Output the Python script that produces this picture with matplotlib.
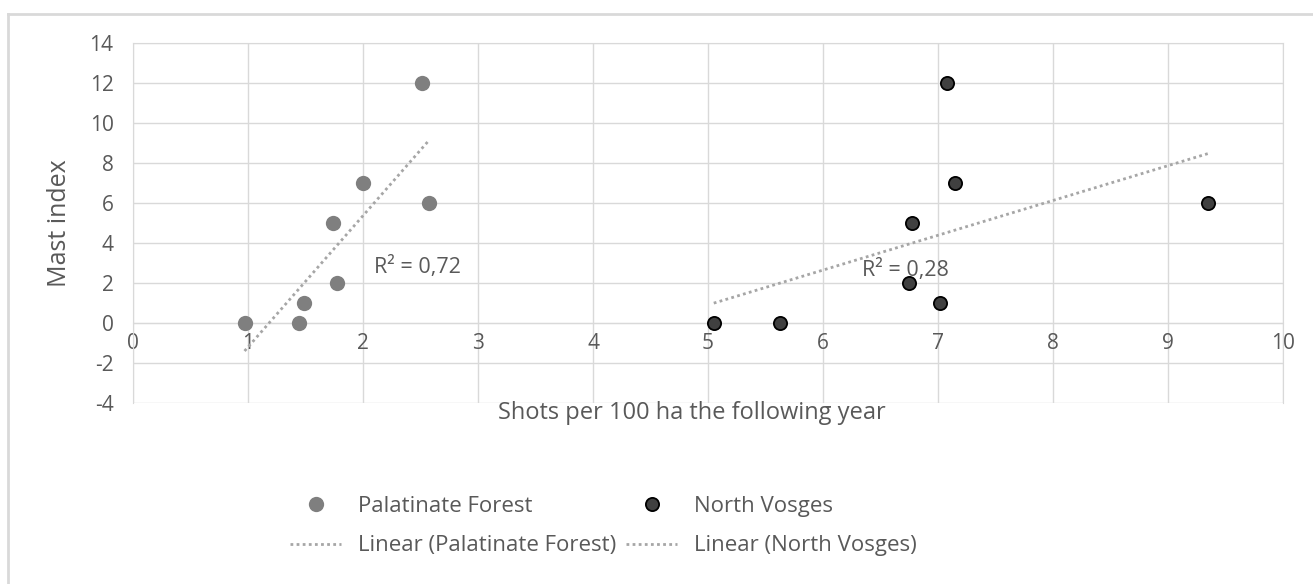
import numpy as np
import matplotlib.pyplot as plt
from matplotlib.lines import Line2D

plt.rcParams['font.family'] = ['Open Sans', 'DejaVu Sans']
plt.rcParams['axes.unicode_minus'] = False

# Palatinate Forest
pal_x = [0.97, 1.44, 1.49, 1.74, 1.77, 2.00, 2.51, 2.57]
pal_y = [0, 0, 1, 5, 2, 7, 12, 6]
# North Vosges
nv_x = [5.05, 5.63, 6.75, 6.77, 7.02, 7.08, 7.15, 9.35]
nv_y = [0, 0, 2, 5, 1, 12, 7, 6]

r2_labels = ['R² = 0,72', 'R² = 0,28']

txt = '#595959'
grid = '#d9d9d9'

fig = plt.figure(figsize=(13.13, 5.84), dpi=100)
ax = fig.add_axes([133 / 1313, 1 - 403 / 584, 1150 / 1313, 360 / 584])

# outer chart border (top and left only visible)
fig.add_artist(Line2D([8 / 1313, 8 / 1313], [0, 1 - 14 / 584], color='#d9d9d9', lw=2, transform=fig.transFigure))
fig.add_artist(Line2D([8 / 1313, 1], [1 - 14 / 584, 1 - 14 / 584], color='#d9d9d9', lw=2, transform=fig.transFigure))

# trend lines
for xs, ys in [(pal_x, pal_y), (nv_x, nv_y)]:
    k, b = np.polyfit(xs, ys, 1)
    xx = np.array([min(xs), max(xs)])
    ax.plot(xx, k * xx + b, linestyle=(0, (1, 1.2)), color='#a6a6a6', lw=2, zorder=3)

ax.plot(pal_x, pal_y, 'o', color='#7f7f7f', markersize=11, markeredgewidth=0, zorder=4, label='Palatinate Forest')
ax.plot(nv_x, nv_y, 'o', color='#404040', markeredgecolor='#000000', markersize=9.5, markeredgewidth=1.3, zorder=4, label='North Vosges')

ax.text(2.10, 2.8, r2_labels[0], fontsize=15.5, color=txt, va='center')
ax.text(6.34, 2.65, r2_labels[1], fontsize=15.5, color=txt, va='center')

ax.set_xlim(0, 10)
ax.set_ylim(-4, 14)
ax.set_xticks(range(0, 11))
ax.set_yticks(range(-4, 15, 2))
ax.grid(True, color=grid, lw=1)
ax.set_axisbelow(True)
for s in ['top', 'right', 'left', 'bottom']:
    ax.spines[s].set_color(grid)
ax.spines['bottom'].set_position(('data', 0))
ax.tick_params(length=0, labelsize=15, labelcolor=txt)
ax.tick_params(axis='y', pad=14)
ax.tick_params(axis='x', pad=7)

ax.set_ylabel('Mast index', fontsize=18, color=txt)
ax.yaxis.set_label_coords(-0.053, 0.5)
fig.text(692 / 1313, 1 - 413 / 584,
         'Shots per 100 ha the following year', fontsize=17, color=txt, ha='center', va='center')

handles = [
    Line2D([], [], marker='o', linestyle='none', color='#7f7f7f', markersize=11, markeredgewidth=0),
    Line2D([], [], linestyle=(0, (1, 1.2)), color='#a6a6a6', lw=2),
    Line2D([], [], marker='o', linestyle='none', color='#404040', markeredgecolor='#000000', markersize=9.5, markeredgewidth=1.3),
    Line2D([], [], linestyle=(0, (1, 1.2)), color='#a6a6a6', lw=2),
]
labels = ['Palatinate Forest', 'Linear (Palatinate Forest)', 'North Vosges', 'Linear (North Vosges)']
leg = fig.legend(handles, labels, ncol=2, loc='center left', bbox_to_anchor=(290 / 1313, 1 - 526 / 584),
                 frameon=False, fontsize=16, handlelength=2.3, handletextpad=0.75, borderpad=0,
                 borderaxespad=0, columnspacing=0.45, labelspacing=0.85, labelcolor=txt)

fig.savefig('out.png', dpi=100, facecolor='white')
